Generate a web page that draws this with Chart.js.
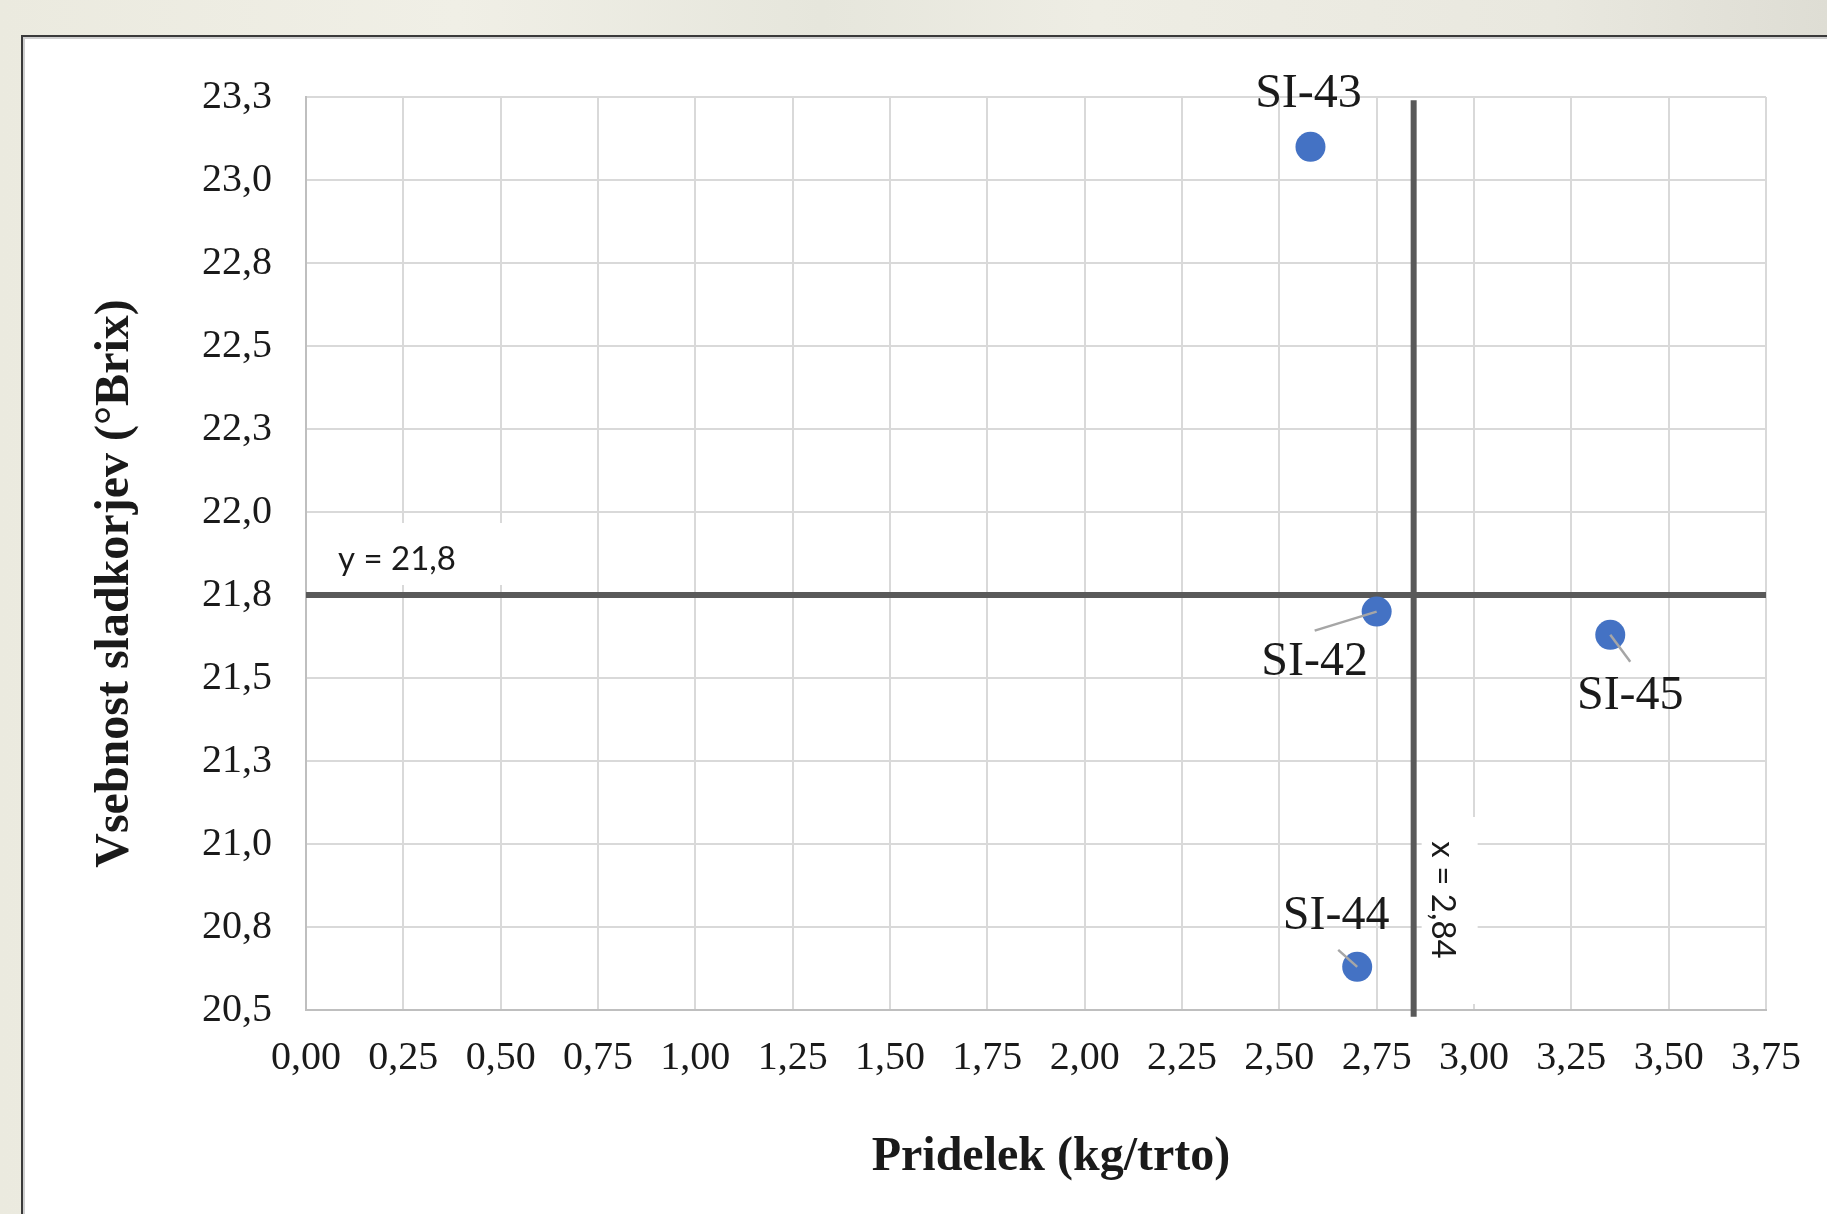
<!DOCTYPE html>
<html><head><meta charset="utf-8">
<script src="https://cdn.jsdelivr.net/npm/chart.js@4.4.1/dist/chart.umd.min.js"></script>
<style>
html,body{margin:0;padding:0;width:1827px;height:1214px;overflow:hidden;}
body{position:relative;background:linear-gradient(90deg,#ebeadf 0%,#f0efe6 25%,#e6e6dc 45%,#eeede4 60%,#e9e8df 85%,#deddd4 100%);}
#box{position:absolute;left:21px;top:35px;width:1850px;height:1220px;background:#fff;border-left:2px solid #3a3a3a;border-top:2px solid #3a3a3a;box-shadow:inset 2px 2px 0 #cfcfcf;}
#c{position:absolute;left:0;top:0;}
</style></head>
<body>
<div id="box"></div>
<canvas id="c" width="1827" height="1214"></canvas>
<script>
// ---- data ----
const cultivars = ['SI-42', 'SI-43', 'SI-44', 'SI-45'];
const yieldKg   = [2.75, 2.58, 2.70, 3.35];      // Pridelek (kg/trto)
const brix      = [21.70, 23.10, 20.63, 21.63];  // Vsebnost sladkorjev (°Brix)
const meanYield = 2.845;
const meanBrix  = 21.75;
const xRange = [0, 3.75];
const yRange = [20.5, 23.25];
const tickStep = 0.25;
const xTitle = 'Pridelek (kg/trto)';
const yTitle = 'Vsebnost sladkorjev (°Brix)';
const meanYLabel = 'y = 21,8';
const meanXLabel = 'x = 2,84';

// ---- label layout (pixel offsets from point: label centre, leader end) ----
const labelLayout = {
  'SI-42': {dx: -62, dy: 51, lx: -62, ly: 19},
  'SI-43': {dx: -2,  dy: -52, lx: null, ly: null},
  'SI-44': {dx: -21, dy: -50, lx: -19, ly: -17},
  'SI-45': {dx: 20,  dy: 62, lx: 20, ly: 27}
};

const serif = '"Liberation Serif", "Times New Roman", serif';
const sans = 'Lato, "Open Sans", sans-serif';

const comma = (v, d) => Number(v).toFixed(d).replace('.', ',');

const overlay = {
  id: 'overlay',
  beforeDatasetsDraw(chart) {
    const ctx = chart.ctx, xs = chart.scales.x, ys = chart.scales.y;
    ctx.save();
    // y mean label box
    const yl = ys.getPixelForValue(meanBrix);
    const xl0 = xs.getPixelForValue(0);
    ctx.fillStyle = '#fff';
    ctx.fillRect(xl0 + 14, yl - 72, 185, 62);
    ctx.fillStyle = '#1a1a1a';
    ctx.font = '33px ' + sans;
    ctx.textBaseline = 'middle';
    ctx.textAlign = 'left';
    ctx.fillText(meanYLabel, xl0 + 32, yl - 36);
    // x mean label box (rotated)
    const xp = xs.getPixelForValue(meanYield);
    const yb = ys.getPixelForValue(yRange[0]);
    ctx.fillStyle = '#fff';
    ctx.fillRect(xp + 8, yb - 193, 56, 187);
    ctx.translate(xp + 29, yb - 110);
    ctx.rotate(Math.PI / 2);
    ctx.fillStyle = '#1a1a1a';
    ctx.textAlign = 'center';
    ctx.fillText(meanXLabel, 0, 0);
    ctx.restore();
  },
  afterDatasetsDraw(chart) {
    const ctx = chart.ctx, xs = chart.scales.x, ys = chart.scales.y;
    ctx.save();
    cultivars.forEach((name, i) => {
      const px = xs.getPixelForValue(yieldKg[i]);
      const py = ys.getPixelForValue(brix[i]);
      const L = labelLayout[name];
      if (L.lx !== null) {
        ctx.strokeStyle = '#a6a6a6';
        ctx.lineWidth = 2.5;
        ctx.beginPath();
        ctx.moveTo(px, py);
        ctx.lineTo(px + L.lx, py + L.ly);
        ctx.stroke();
      }
      ctx.fillStyle = '#1a1a1a';
      ctx.font = '48px ' + serif;
      ctx.textAlign = 'center';
      ctx.textBaseline = 'middle';
      ctx.fillText(name, px + L.dx, py + L.dy);
    });
    // axis titles
    const ca = chart.chartArea;
    ctx.font = 'bold 48px ' + serif;
    ctx.fillStyle = '#1a1a1a';
    ctx.textAlign = 'center';
    ctx.textBaseline = 'middle';
    ctx.fillText(xTitle, (ca.left + ca.right) / 2 + 15, 1158);
    ctx.translate(116, (ca.top + ca.bottom) / 2 + 30);
    ctx.rotate(-Math.PI / 2);
    ctx.fillText(yTitle, 0, 0);
    ctx.restore();
  }
};

new Chart(document.getElementById('c'), {
  data: {
    datasets: [
      {
        type: 'scatter',
        label: 'Sorte',
        data: cultivars.map((c, i) => ({x: yieldKg[i], y: brix[i]})),
        backgroundColor: '#4472C4',
        borderWidth: 0,
        pointRadius: 15,
        order: 0
      },
      {
        type: 'line',
        label: meanYLabel,
        data: [{x: xRange[0], y: meanBrix}, {x: xRange[1], y: meanBrix}],
        borderColor: '#595959',
        borderWidth: 6,
        pointRadius: 0,
        order: 1
      },
      {
        type: 'line',
        label: meanXLabel,
        data: [{x: meanYield, y: 20.48}, {x: meanYield, y: 23.24}],
        borderColor: '#595959',
        borderWidth: 6,
        pointRadius: 0,
        clip: false,
        order: 1
      }
    ]
  },
  options: {
    responsive: false,
    devicePixelRatio: 1,
    animation: false,
    layout: {padding: {left: 0, top: 97, right: 61, bottom: 0}},
    plugins: {legend: {display: false}, tooltip: {enabled: false}},
    scales: {
      x: {
        type: 'linear',
        min: xRange[0], max: xRange[1],
        ticks: {stepSize: tickStep, padding: 24, color: '#1a1a1a',
                font: {family: serif, size: 40},
                callback: v => comma(v, 2), maxRotation: 0, autoSkip: false},
        grid: {color: '#d9d9d9', lineWidth: 2, drawTicks: false},
        border: {display: true, color: '#bfbfbf', width: 2},
        afterFit: a => { a.height = 204; }
      },
      y: {
        type: 'linear',
        min: yRange[0], max: yRange[1],
        ticks: {stepSize: tickStep, padding: 34, color: '#1a1a1a',
                font: {family: serif, size: 40},
                callback: v => comma(v, 1), autoSkip: false},
        grid: {color: '#d9d9d9', lineWidth: 2, drawTicks: false},
        border: {display: true, color: '#bfbfbf', width: 2},
        afterFit: a => { a.width = 306; }
      }
    }
  },
  plugins: [overlay]
});
</script>
</body></html>
